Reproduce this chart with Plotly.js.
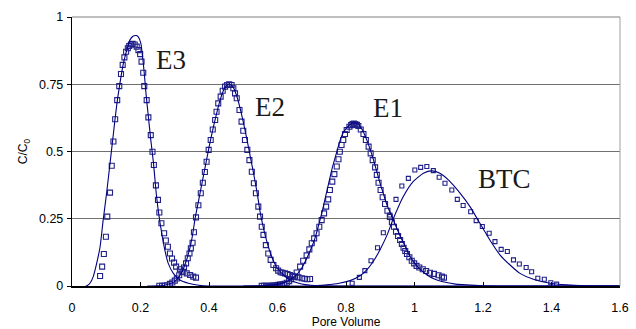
<!DOCTYPE html>
<html>
<head>
<meta charset="utf-8">
<script src="https://cdn.plot.ly/plotly-3.0.1.min.js"></script>
<style>html,body{margin:0;padding:0;background:#fff;}#chart{width:636px;height:329px;}</style>
</head>
<body>
<div id="chart"></div>
<script>
// ---- data ----
const xTicks = [0, 0.2, 0.4, 0.6, 0.8, 1, 1.2, 1.4, 1.6];
const yTicks = [0, 0.25, 0.5, 0.75, 1];
const yTickText = ["0", "0.25", "0.5", "0.75", "1"];

const e3ObsX = [0.082,0.088,0.093,0.099,0.103,0.111,0.116,0.121,0.126,0.132,0.138,0.143,0.148,0.153,0.158,0.163,0.167,0.172,0.177,0.183,0.189,0.194,0.199,0.203,0.208,0.211,0.218,0.223,0.230,0.235,0.239,0.245,0.251,0.255,0.261,0.269,0.274,0.280,0.286,0.292,0.298,0.304,0.315,0.325,0.335,0.345,0.354,0.362];
const e3ObsY = [0.037,0.072,0.119,0.183,0.258,0.347,0.447,0.537,0.620,0.691,0.743,0.788,0.822,0.850,0.871,0.884,0.892,0.898,0.900,0.898,0.890,0.877,0.862,0.834,0.793,0.743,0.691,0.627,0.561,0.499,0.450,0.374,0.320,0.273,0.233,0.196,0.169,0.146,0.121,0.102,0.087,0.072,0.062,0.053,0.047,0.041,0.035,0.031];
const e3FitX = [0.040,0.045,0.053,0.062,0.072,0.082,0.091,0.101,0.111,0.121,0.130,0.140,0.150,0.160,0.169,0.179,0.188,0.194,0.201,0.206,0.211,0.216,0.223,0.230,0.238,0.245,0.253,0.262,0.271,0.281,0.296,0.315,0.340,0.370,0.400,1.6];
const e3FitY = [0,0.002,0.011,0.035,0.084,0.146,0.245,0.345,0.456,0.568,0.667,0.754,0.828,0.877,0.914,0.929,0.931,0.925,0.902,0.853,0.791,0.716,0.629,0.543,0.456,0.357,0.270,0.196,0.134,0.084,0.047,0.022,0.010,0.003,0,0];

const e2ObsX = [0.255,0.263,0.271,0.278,0.286,0.293,0.300,0.306,0.313,0.320,0.327,0.333,0.338,0.343,0.347,0.352,0.356,0.362,0.369,0.376,0.382,0.388,0.393,0.399,0.405,0.411,0.418,0.422,0.427,0.434,0.440,0.447,0.453,0.459,0.466,0.471,0.476,0.481,0.489,0.495,0.500,0.505,0.512,0.518,0.525,0.531,0.537,0.544,0.549,0.554,0.559,0.566,0.573,0.580,0.588,0.596,0.602,0.609,0.615,0.622,0.629,0.636,0.644,0.651,0.661,0.671,0.679,0.687,0.695];
const e2ObsY = [0.001,0.001,0.002,0.003,0.008,0.013,0.020,0.028,0.040,0.053,0.069,0.084,0.103,0.121,0.140,0.161,0.200,0.255,0.300,0.345,0.384,0.424,0.462,0.506,0.543,0.582,0.617,0.648,0.679,0.704,0.726,0.741,0.747,0.750,0.747,0.735,0.716,0.698,0.654,0.611,0.577,0.543,0.506,0.468,0.425,0.382,0.345,0.295,0.258,0.220,0.190,0.152,0.121,0.097,0.078,0.066,0.057,0.051,0.049,0.047,0.044,0.041,0.038,0.035,0.032,0.029,0.027,0.025,0.026];
const e2FitX = [0.220,0.250,0.270,0.290,0.300,0.310,0.320,0.330,0.340,0.350,0.360,0.370,0.380,0.390,0.400,0.410,0.420,0.430,0.440,0.450,0.460,0.470,0.480,0.490,0.500,0.510,0.520,0.530,0.540,0.550,0.560,0.570,0.580,0.590,0.600,0.620,0.640,0.660,0.680,0.720,1.6];
const e2FitY = [0,0.001,0.003,0.010,0.017,0.030,0.050,0.080,0.120,0.175,0.255,0.320,0.385,0.450,0.515,0.575,0.630,0.680,0.720,0.745,0.751,0.740,0.710,0.665,0.610,0.550,0.485,0.420,0.350,0.270,0.210,0.160,0.120,0.088,0.065,0.038,0.020,0.011,0.005,0.001,0];

const e1ObsX = [0.554,0.560,0.566,0.572,0.578,0.584,0.590,0.596,0.602,0.608,0.614,0.620,0.627,0.634,0.640,0.646,0.656,0.666,0.675,0.685,0.693,0.700,0.707,0.714,0.722,0.729,0.736,0.742,0.748,0.753,0.760,0.766,0.773,0.778,0.782,0.787,0.792,0.797,0.802,0.810,0.815,0.819,0.823,0.827,0.832,0.836,0.843,0.851,0.858,0.866,0.872,0.878,0.885,0.890,0.895,0.901,0.907,0.914,0.921,0.928,0.934,0.940,0.946,0.952,0.958,0.963,0.968,0.973,0.978,0.985,0.992,0.999,1.006,1.014,1.024,1.034,1.045,1.057,1.070,1.080,1.086];
const e1ObsY = [0.001,0.001,0.001,0.001,0.001,0.002,0.002,0.003,0.004,0.005,0.006,0.008,0.012,0.018,0.025,0.035,0.050,0.072,0.094,0.114,0.136,0.159,0.177,0.196,0.220,0.245,0.270,0.295,0.322,0.357,0.388,0.416,0.444,0.471,0.499,0.524,0.543,0.565,0.580,0.592,0.598,0.602,0.604,0.602,0.599,0.595,0.582,0.565,0.543,0.518,0.493,0.468,0.441,0.413,0.384,0.357,0.330,0.305,0.280,0.257,0.237,0.220,0.202,0.186,0.171,0.156,0.142,0.130,0.119,0.107,0.094,0.084,0.075,0.069,0.062,0.056,0.049,0.045,0.040,0.035,0.031];
const e1FitX = [0.500,0.550,0.600,0.630,0.650,0.670,0.690,0.700,0.710,0.720,0.730,0.740,0.750,0.760,0.770,0.780,0.790,0.800,0.810,0.820,0.825,0.830,0.840,0.850,0.860,0.870,0.880,0.890,0.900,0.910,0.920,0.930,0.940,0.950,0.960,0.970,0.980,0.990,1.000,1.020,1.040,1.060,1.090,1.120,1.150,1.200,1.6];
const e1FitY = [0,0.001,0.006,0.018,0.035,0.065,0.115,0.145,0.180,0.225,0.275,0.330,0.385,0.440,0.485,0.530,0.565,0.585,0.598,0.606,0.607,0.605,0.595,0.575,0.545,0.510,0.470,0.425,0.380,0.340,0.300,0.270,0.240,0.210,0.180,0.155,0.128,0.104,0.085,0.058,0.038,0.025,0.014,0.007,0.004,0.001,0];

const btcObsX = [0.818,0.839,0.855,0.873,0.892,0.909,0.928,0.946,0.963,0.982,1.001,1.018,1.036,1.055,1.072,1.089,1.109,1.125,1.142,1.164,1.180,1.198,1.218,1.235,1.253,1.271,1.289,1.306,1.326,1.342,1.360,1.379,1.398,1.415];
const btcObsY = [0.010,0.032,0.057,0.094,0.142,0.198,0.264,0.322,0.372,0.400,0.431,0.441,0.444,0.429,0.404,0.382,0.357,0.322,0.299,0.276,0.243,0.221,0.196,0.165,0.136,0.128,0.097,0.082,0.069,0.053,0.029,0.025,0.012,0.007];
const btcFitX = [0.700,0.744,0.780,0.812,0.840,0.860,0.880,0.899,0.920,0.938,0.967,0.996,1.026,1.050,1.074,1.104,1.133,1.162,1.191,1.220,1.250,1.279,1.308,1.347,1.396,1.444,1.500,1.6];
const btcFitY = [0,0.004,0.010,0.020,0.037,0.059,0.092,0.134,0.190,0.250,0.332,0.388,0.419,0.428,0.419,0.388,0.345,0.295,0.233,0.171,0.115,0.078,0.047,0.025,0.010,0.004,0.001,0];

const curveLabels = ["E3", "E2", "E1", "BTC"];
const labelX = [0.288, 0.577, 0.923, 1.264];
const labelY = [0.842, 0.666, 0.660, 0.398];

// ---- drawing ----
const navy = '#000080';
const mk = '#202088';
function obs(x, y, size) {
  return {x: x, y: y, type: 'scatter', mode: 'markers', hoverinfo: 'skip',
    marker: {symbol: 'square-open', size: size, color: mk, line: {color: mk, width: 1.1}}};
}
function fit(x, y) {
  return {x: x, y: y, type: 'scatter', mode: 'lines', hoverinfo: 'skip',
    line: {color: navy, width: 1.1, shape: 'spline', smoothing: 0.6}};
}
const traces = [
  obs(e3ObsX, e3ObsY, 5), obs(e2ObsX, e2ObsY, 5), obs(e1ObsX, e1ObsY, 5), obs(btcObsX, btcObsY, 4),
  fit(e3FitX, e3FitY), fit(e2FitX, e2FitY), fit(e1FitX, e1FitY), fit(btcFitX, btcFitY)
];

const annotations = curveLabels.map((t, i) => ({
  x: labelX[i], y: labelY[i], xref: 'x', yref: 'y', text: t, showarrow: false,
  xanchor: 'center', yanchor: 'middle',
  font: {family: 'Liberation Serif, Times New Roman, serif', size: 27, color: '#1a1a1a'}
}));

const layout = {
  width: 636, height: 329,
  margin: {l: 72, r: 16, t: 17, b: 43, pad: 0},
  paper_bgcolor: '#ffffff', plot_bgcolor: '#ffffff',
  showlegend: false,
  font: {family: 'Liberation Sans, Arial, sans-serif', size: 12.5, color: '#000'},
  xaxis: {
    range: [0, 1.6], tickvals: xTicks, ticktext: xTicks.map(String),
    ticks: 'inside', ticklen: 4, tickcolor: '#000', tickwidth: 1,
    showgrid: false, zeroline: false, showline: true, linecolor: '#000', linewidth: 1.5,
    tickfont: {size: 12.5}, ticklabelstandoff: 9,
    title: {text: 'Pore Volume', font: {size: 12}, standoff: 9}
  },
  yaxis: {
    range: [0, 1], tickvals: yTicks, ticktext: yTickText,
    ticks: 'outside', ticklen: 4, tickcolor: '#000', tickwidth: 1,
    showgrid: true, gridcolor: '#707070', gridwidth: 1,
    zeroline: false, showline: true, linecolor: '#000', linewidth: 1.2,
    tickfont: {size: 12.5}, ticklabelstandoff: 1,
    title: {text: 'C/C<sub>0</sub>', font: {size: 12}, standoff: 8}
  },
  shapes: [
    {type: 'line', xref: 'paper', yref: 'paper', x0: 1, x1: 1, y0: 0, y1: 1, line: {color: '#a0a0a0', width: 1}},
    {type: 'line', xref: 'paper', yref: 'paper', x0: 0, x1: 1, y0: 1, y1: 1, line: {color: '#808080', width: 1}}
  ],
  annotations: annotations
};

Plotly.newPlot('chart', traces, layout, {staticPlot: true, displayModeBar: false});
</script>
</body>
</html>
